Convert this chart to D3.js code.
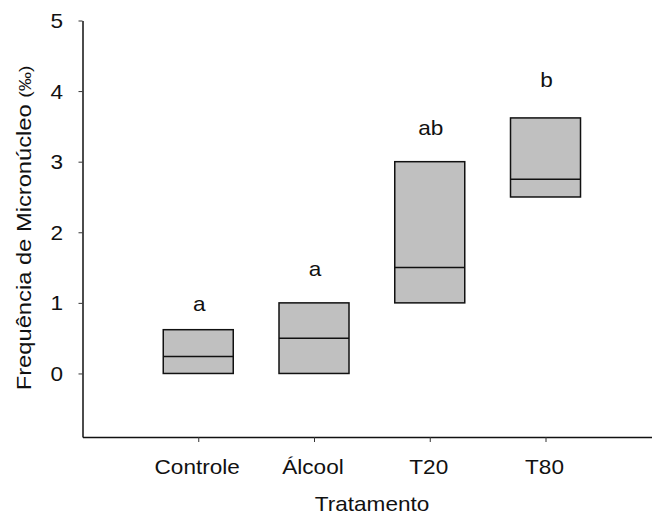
<!DOCTYPE html>
<html>
<head>
<meta charset="utf-8">
<script src="https://cdn.jsdelivr.net/npm/d3@7"></script>
<style>
  html, body { margin: 0; padding: 0; background: #fff; }
  svg { display: block; }
  text { font-family: "Liberation Sans", Arial, sans-serif; fill: #111; }
</style>
</head>
<body>
<svg id="chart" width="652" height="516"></svg>
<script>
// Micronucleus frequency per treatment: box from 25th to 75th percentile, line at median
const categories = ["Controle", "Álcool", "T20", "T80"];
const q1Values = [0, 0, 1.0, 2.5];
const medianValues = [0.24, 0.5, 1.5, 2.75];
const q3Values = [0.62, 1.0, 3.0, 3.62];
const groupLetters = ["a", "a", "ab", "b"];
const letterHeights = [0.88, 1.38, 3.38, 4.06];
const yTicks = [0, 1, 2, 3, 4, 5];

const W = 652, H = 516;
const axisX = 82.5, axisY = 437;
const boxWidth = 70;
const textStretch = 1.13;

const svg = d3.select("#chart");

const y = d3.scaleLinear().domain([-0.9, 5]).range([axisY, 20.5]);
const x = d3.scaleLinear().domain([0, 4.92]).range([axisX, W]);

// draw text widened along its reading direction
function label(parent, px, py, str, size, anchor, rotate) {
  const g = parent.append("g")
    .attr("transform", `translate(${px},${py})` + (rotate ? ` rotate(${rotate})` : ""));
  return g.append("text")
    .attr("transform", `scale(${textStretch},1)`)
    .attr("text-anchor", anchor)
    .attr("font-size", size)
    .text(str);
}

// boxes
const rows = categories.map((c, i) => ({
  cat: c, pos: i + 1, q1: q1Values[i], med: medianValues[i], q3: q3Values[i],
  letter: groupLetters[i], lh: letterHeights[i]
}));

const boxes = svg.append("g");
rows.forEach(d => {
  const cx = x(d.pos);
  boxes.append("rect")
    .attr("x", cx - boxWidth / 2)
    .attr("y", y(d.q3))
    .attr("width", boxWidth)
    .attr("height", y(d.q1) - y(d.q3))
    .attr("fill", "#c0c0c0")
    .attr("stroke", "#111")
    .attr("stroke-width", 1.5);
  boxes.append("line")
    .attr("x1", cx - boxWidth / 2).attr("x2", cx + boxWidth / 2)
    .attr("y1", y(d.med)).attr("y2", y(d.med))
    .attr("stroke", "#111").attr("stroke-width", 1.5);
  label(svg, cx + 1, y(d.lh), d.letter, 20, "middle");
});

// y axis
const yAxis = svg.append("g")
  .attr("transform", `translate(${axisX},0)`)
  .call(d3.axisLeft(y).tickValues(yTicks).tickSize(4).tickSizeOuter(0).tickFormat(""));
yAxis.select(".domain").attr("stroke", "#111").attr("stroke-width", 1.5);
yAxis.selectAll(".tick line").attr("stroke", "#333");
yTicks.forEach(t => {
  label(svg, 63, y(t) + 7.5, String(t), 20, "end");
});

// x axis
const xAxis = svg.append("g")
  .attr("transform", `translate(0,${axisY})`)
  .call(d3.axisBottom(x).tickValues(rows.map(d => d.pos)).tickSize(5).tickSizeOuter(0).tickFormat(""));
xAxis.select(".domain").attr("stroke", "#111").attr("stroke-width", 1.5);
xAxis.selectAll(".tick line").attr("stroke", "#333");
rows.forEach(d => {
  label(svg, x(d.pos) - 1, 474, d.cat, 20, "middle");
});

// axis titles
label(svg, 372, 511, "Tratamento", 20, "middle");
const yt = label(svg, 31, 228, "Frequência de Micronúcleo ", 21, "middle", -90);
yt.append("tspan").attr("font-size", 17).text("(‰)");
</script>
</body>
</html>
